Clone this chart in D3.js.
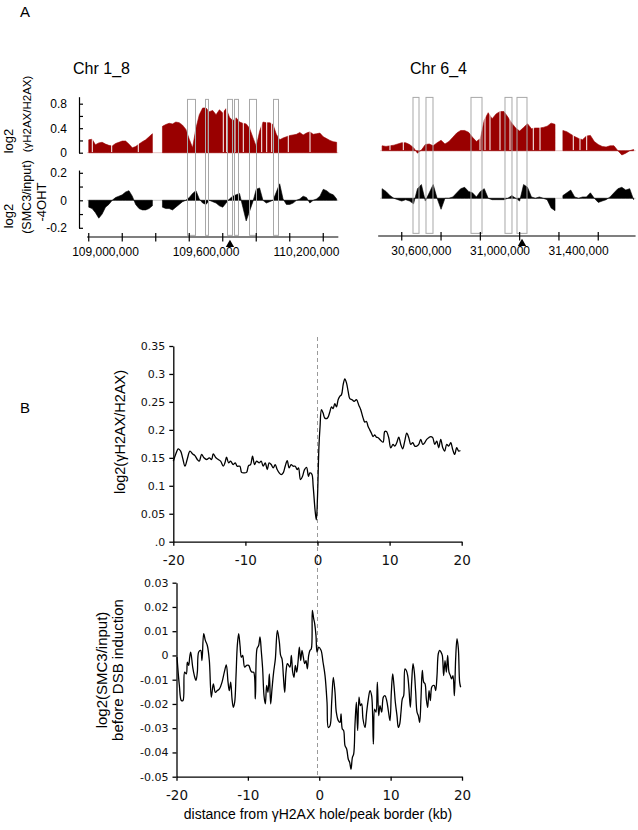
<!DOCTYPE html>
<html>
<head>
<meta charset="utf-8">
<script src="https://cdn.jsdelivr.net/npm/d3@7"></script>
<style>
  body { margin: 0; background: #fff; }
  svg { display: block; }
</style>
</head>
<body>
<div id="chart"></div>
<script>
// ---------- panel A : 20 kb bins ----------
var binStep = 20000;

var chr1Start = 108890000;
var chr1Gamma = [0.21,0.22,0.13,0.16,0.17,0.14,0.12,0.11,0.15,0.17,
                 0.19,0.19,0.14,0.08,0.10,0.14,0.18,0.21,0.26,0.31,
                 null,null,0.43,0.46,0.48,0.47,0.50,0.49,0.45,0.38,
                 0.22,0.08,0.40,0.62,0.73,0.73,0.67,0.69,0.62,0.70,
                 0.65,0.72,0.58,0.52,0.57,0.50,0.48,0.47,0.40,0.25,
                 0.10,0.35,0.50,0.49,0.49,0.46,0.30,0.21,0.24,0.26,
                 0.28,0.29,0.30,0.33,0.29,0.32,0.34,0.30,0.31,0.32,
                 0.26,0.23,0.20,0.18,0.17];
var chr1Smc3 = [-0.05,-0.06,-0.09,-0.13,-0.10,-0.05,-0.03,0.00,0.02,0.03,
                0.04,0.06,0.07,0.03,-0.03,-0.06,-0.07,-0.07,-0.06,-0.04,
                null,null,-0.05,-0.06,-0.06,-0.07,-0.05,-0.03,-0.01,0.00,
                0.02,0.05,0.07,0.01,-0.02,-0.03,0.00,-0.01,-0.02,-0.04,
                -0.05,-0.02,0.01,0.03,0.04,0.05,-0.05,-0.15,-0.08,-0.01,
                0.08,0.09,0.00,-0.02,-0.01,0.00,0.06,0.12,0.01,-0.03,
                -0.03,-0.02,0.00,0.01,0.03,0.02,-0.02,0.00,0.01,0.03,
                0.08,0.07,0.05,0.04,0.01];
// positions of empty bins inside the gammaH2AX track
var chr1Gaps = [108921200,109037000,109195800,109613700,109703300,109723600,109773100,
                109822700,109932500,109962400,109992200,110091300,110220900];

var chr6Start = 30390000;
var chr6Gamma = [0.08,0.07,0.08,0.09,0.11,0.13,0.13,0.10,0.05,-0.04,
                 0.01,0.10,0.11,0.08,0.13,0.17,0.11,0.15,0.22,0.29,
                 0.33,0.33,0.30,0.22,0.15,0.20,0.50,0.62,0.52,0.60,
                 0.64,0.64,0.55,0.45,0.37,0.32,0.38,0.44,0.36,0.37,
                 0.37,0.38,0.40,0.45,0.43,null,0.33,0.31,0.27,0.23,
                 0.20,0.18,0.24,0.25,0.15,0.10,0.07,0.06,0.08,0.08,
                 0.00,-0.07,-0.04,0.00,0.02];
var chr6Smc3 = [0.07,0.05,0.02,0.00,-0.01,-0.02,-0.01,-0.02,-0.04,0.07,
                0.10,-0.02,0.04,0.10,0.00,-0.08,0.00,0.00,0.01,0.04,
                0.07,0.08,0.05,0.04,0.01,0.05,0.07,0.00,-0.01,-0.01,
                -0.01,-0.01,0.00,0.02,0.00,-0.02,0.10,0.08,0.01,0.00,
                0.01,0.00,-0.01,-0.07,-0.09,null,0.02,0.04,0.06,0.01,
                0.00,0.01,0.01,0.04,0.00,-0.03,-0.02,-0.01,0.01,0.04,
                0.07,0.08,0.06,0.07,-0.01];
var chr6Gaps = [30440200,30507900,30898200,30923700,30949100,31000000,31050900,
                31169500,31203600,31373000,31407100,31441200];

// grey boxes (hole / peak borders) and break site
var chr1Boxes = [[109489500,109537300],[109597000,109614900],[109728300,109758200],
                 [109770100,109794000],[109859700,109901500],[110003000,110032800]];
var chr6Boxes = [[30557250,30587800],[30623400,30659000],[30852400,30908400],
                 [31025400,31061000],[31086500,31137400]];
var chr1Break = 109743000, chr6Break = 31112000;

var chr1Labels = [109000000, 109600000, 110200000];
var chr1TickMarks = [108900000,109100000,109300000,109500000,109700000,109900000,110100000,110300000];
var chr6Labels = [30600000, 31000000, 31400000];
var chr6TickMarks = [30500000,30700000,30900000,31100000,31300000,31500000];
var chr1AxisSpan = [108890000, 110390000];
var chr6AxisSpan = [30380000, 31690000];

var gammaTicks = [0, 0.2, 0.4, 0.6, 0.8];
var gammaLabelled = [0, 0.4, 0.8];
var smc3Ticks = [-0.2, -0.1, 0, 0.1, 0.2];
var smc3Labelled = [-0.2, 0, 0.2];

// ---------- panel B : averaged profiles (kb, value) ----------
var gammaProfile = [[-20.00,0.144],[-19.68,0.156],[-19.31,0.166],[-18.98,0.162],[-18.71,0.150],[-18.38,0.135],
  [-18.06,0.148],[-17.69,0.162],[-17.32,0.157],[-17.00,0.154],[-16.67,0.147],[-16.40,0.144],[-16.07,0.156],
  [-15.75,0.150],[-15.38,0.147],[-15.01,0.150],[-14.69,0.147],[-14.46,0.157],[-14.09,0.150],[-13.76,0.147],
  [-13.44,0.144],[-13.07,0.135],[-12.84,0.141],[-12.61,0.151],[-12.33,0.141],[-12.06,0.144],[-11.69,0.138],
  [-11.41,0.141],[-11.13,0.135],[-10.76,0.135],[-10.53,0.124],[-10.21,0.123],[-9.84,0.124],[-9.56,0.136],
  [-9.28,0.138],[-9.01,0.153],[-8.73,0.138],[-8.45,0.144],[-8.08,0.141],[-7.81,0.144],[-7.53,0.135],
  [-7.25,0.141],[-6.97,0.129],[-6.70,0.141],[-6.42,0.138],[-6.14,0.132],[-5.87,0.138],[-5.59,0.129],
  [-5.31,0.123],[-5.03,0.120],[-4.76,0.123],[-4.48,0.135],[-4.20,0.145],[-3.93,0.132],[-3.65,0.138],
  [-3.37,0.135],[-3.09,0.135],[-2.82,0.129],[-2.63,0.132],[-2.36,0.111],[-2.08,0.117],[-1.80,0.129],
  [-1.52,0.133],[-1.25,0.117],[-1.06,0.123],[-0.79,0.121],[-0.60,0.099],[-0.32,0.054],[-0.16,0.039],
  [0.00,0.080],[0.20,0.170],[0.35,0.205],[0.55,0.236],[0.78,0.230],[1.01,0.221],[1.38,0.221],[1.71,0.232],
  [1.94,0.241],[2.17,0.238],[2.40,0.247],[2.63,0.241],[2.86,0.254],[3.09,0.260],[3.33,0.263],[3.56,0.281],
  [3.79,0.291],[4.02,0.284],[4.25,0.269],[4.48,0.256],[4.80,0.254],[5.08,0.251],[5.40,0.254],[5.73,0.244],
  [6.00,0.236],[6.33,0.221],[6.56,0.214],[6.79,0.215],[7.02,0.206],[7.25,0.200],[7.48,0.194],[7.71,0.188],
  [7.94,0.191],[8.17,0.187],[8.41,0.186],[8.78,0.181],[9.10,0.178],[9.33,0.197],[9.56,0.197],[9.88,0.186],
  [10.16,0.168],[10.48,0.174],[10.72,0.171],[10.99,0.177],[11.27,0.187],[11.55,0.174],[11.82,0.166],
  [12.10,0.180],[12.38,0.194],[12.66,0.186],[12.93,0.174],[13.21,0.177],[13.49,0.171],[13.76,0.171],
  [14.04,0.174],[14.32,0.183],[14.60,0.174],[14.87,0.177],[15.15,0.183],[15.43,0.186],[15.70,0.188],
  [15.98,0.186],[16.26,0.174],[16.54,0.180],[16.81,0.168],[17.09,0.183],[17.37,0.168],[17.64,0.162],
  [17.92,0.174],[18.20,0.171],[18.48,0.177],[18.75,0.165],[19.03,0.156],[19.31,0.168],[19.58,0.162],
  [19.82,0.163]];

var smc3Profile = [[-19.93,-0.0007],[-19.60,-0.0124],[-19.32,-0.0186],[-19.09,-0.0186],[-18.86,-0.0069],
  [-18.62,-0.0076],[-18.48,-0.0028],[-18.30,-0.0041],[-18.15,-0.0007],[-18.01,0.0014],[-17.73,-0.0048],
  [-17.50,-0.0083],[-17.27,-0.0103],[-17.08,-0.0069],[-16.89,0.0014],[-16.61,0.0021],[-16.43,-0.0021],
  [-16.19,0.0090],[-15.96,0.0062],[-15.68,0.0041],[-15.40,-0.0021],[-15.12,-0.0172],[-14.84,-0.0117],
  [-14.56,-0.0152],[-14.28,-0.0145],[-13.99,-0.0138],[-13.62,-0.0110],[-13.30,-0.0069],[-13.02,-0.0039],
  [-12.78,-0.0110],[-12.60,-0.0145],[-12.41,-0.0110],[-12.22,-0.0179],[-12.04,-0.0214],[-11.85,-0.0193],
  [-11.66,-0.0083],[-11.48,0.0041],[-11.29,0.0090],[-11.10,0.0041],[-10.92,-0.0007],[-10.73,0.0000],
  [-10.45,-0.0048],[-10.17,-0.0041],[-9.89,-0.0041],[-9.61,-0.0062],[-9.42,-0.0069],[-9.19,-0.0069],
  [-8.95,-0.0179],[-8.72,0.0028],[-8.49,0.0041],[-8.30,0.0076],[-8.11,0.0014],[-7.93,-0.0055],
  [-7.74,-0.0166],[-7.55,-0.0200],[-7.37,-0.0124],[-7.18,-0.0152],[-6.99,-0.0076],[-6.81,-0.0200],
  [-6.62,-0.0138],[-6.39,-0.0069],[-6.15,-0.0014],[-5.87,0.0103],[-5.59,0.0055],[-5.41,0.0000],
  [-5.22,-0.0014],[-5.03,-0.0083],[-4.84,-0.0152],[-4.66,-0.0069],[-4.47,-0.0034],[-4.28,-0.0041],
  [-4.10,-0.0048],[-3.91,0.0000],[-3.72,-0.0069],[-3.54,-0.0090],[-3.35,-0.0041],[-3.16,-0.0069],
  [-2.98,-0.0028],[-2.79,0.0034],[-2.60,-0.0021],[-2.42,0.0021],[-2.23,-0.0007],[-2.04,-0.0034],
  [-1.86,-0.0021],[-1.67,-0.0055],[-1.48,0.0000],[-1.30,0.0021],[-1.11,0.0028],[-0.97,0.0186],
  [-0.78,0.0152],[-0.64,0.0131],[-0.46,0.0083],[-0.31,0.0014],[-0.08,0.0034],[0.25,0.0021],
  [0.53,-0.0028],[0.81,-0.0083],[1.09,-0.0193],[1.27,-0.0297],[1.51,-0.0290],[1.74,-0.0193],
  [1.97,-0.0090],[2.21,-0.0152],[2.39,-0.0234],[2.67,-0.0269],[2.91,-0.0276],[3.05,-0.0241],
  [3.23,-0.0303],[3.42,-0.0310],[3.61,-0.0372],[3.84,-0.0386],[4.07,-0.0428],[4.26,-0.0441],
  [4.45,-0.0469],[4.64,-0.0421],[4.82,-0.0407],[5.01,-0.0283],[5.20,-0.0193],[5.38,-0.0310],
  [5.57,-0.0172],[5.76,-0.0207],[5.94,-0.0200],[6.13,-0.0262],[6.41,-0.0297],[6.64,-0.0234],
  [6.88,-0.0179],[7.11,-0.0145],[7.34,-0.0166],[7.58,-0.0366],[7.76,-0.0221],[7.95,-0.0234],
  [8.14,-0.0110],[8.33,-0.0248],[8.51,-0.0207],[8.75,-0.0234],[8.98,-0.0172],[9.21,-0.0166],
  [9.45,-0.0186],[9.68,-0.0228],[9.91,-0.0269],[10.10,-0.0152],[10.29,-0.0076],[10.47,-0.0124],
  [10.66,-0.0193],[10.89,-0.0248],[11.08,-0.0297],[11.27,-0.0283],[11.45,-0.0234],[11.64,-0.0179],
  [11.83,-0.0166],[12.01,-0.0055],[12.20,-0.0062],[12.39,-0.0083],[12.57,-0.0138],[12.76,-0.0214],
  [12.95,-0.0110],[13.14,-0.0034],[13.32,-0.0069],[13.51,-0.0152],[13.70,-0.0234],[13.88,-0.0248],
  [14.07,-0.0276],[14.26,-0.0172],[14.44,-0.0062],[14.63,-0.0110],[14.82,-0.0117],[15.00,-0.0179],
  [15.19,-0.0214],[15.38,-0.0145],[15.56,-0.0186],[15.75,-0.0131],[15.94,-0.0124],[16.12,-0.0124],
  [16.31,-0.0145],[16.50,-0.0083],[16.68,0.0007],[16.87,0.0021],[17.06,0.0014],[17.24,0.0000],
  [17.43,-0.0083],[17.62,-0.0021],[17.81,-0.0069],[17.99,0.0000],[18.18,-0.0069],[18.37,-0.0083],
  [18.55,-0.0097],[18.74,-0.0083],[18.93,-0.0166],[19.11,-0.0014],[19.30,0.0069],[19.49,0.0028],
  [19.67,-0.0110],[19.81,-0.0131]];

var kbTicks = [-20, -10, 0, 10, 20];
var gammaAvgTicks = [0, 0.05, 0.1, 0.15, 0.2, 0.25, 0.3, 0.35];
var gammaAvgLabels = [".0", "0.05", "0.1", "0.15", "0.2", "0.25", "0.3", "0.35"];
var smc3AvgTicks = [-0.05, -0.04, -0.03, -0.02, -0.01, 0, 0.01, 0.02, 0.03];
var smc3AvgLabels = ["-0.05", "-0.04", "-0.03", "-0.02", "-0.01", "0", "0.01", "0.02", "0.03"];

// ---------- drawing ----------
var W = 638, H = 830;
var fontA = "'Liberation Sans', Arial, sans-serif";
var fontTick = "'DejaVu Sans', Verdana, sans-serif";

var svg = d3.select("#chart").append("svg")
    .attr("width", W).attr("height", H)
    .style("font-family", fontA);

svg.append("rect").attr("width", W).attr("height", H).attr("fill", "#fff");

function fmtBp(v) { return d3.format(",")(v); }

// y scales for panel A (right panel sits 2px higher)
function gammaScale(shift) {
    return d3.scaleLinear().domain([0, 0.914]).range([152.7 + shift, 96.7 + shift]);
}
function smc3Scale(shift) {
    return d3.scaleLinear().domain([-0.2, 0.22]).range([227.8 + shift, 170.05 + shift]);
}

function drawTrack(g, x, y, start, values, fill, baseColor) {
    var n = values.length;
    // faint zero line under the whole track
    g.append("line")
        .attr("x1", x(start)).attr("x2", x(start + n * binStep))
        .attr("y1", y(0)).attr("y2", y(0))
        .attr("stroke", baseColor).attr("stroke-width", 1);
    var pts = values.map(function(v, i) { return {s: start + (i + 0.5) * binStep, v: v}; });
    var area = d3.area()
        .defined(function(d) { return d.v !== null; })
        .x(function(d) { return x(d.s); })
        .y0(y(0))
        .y1(function(d) { return y(d.v); });
    g.append("path").datum(pts).attr("d", area)
        .attr("fill", fill).attr("stroke", fill).attr("stroke-width", 0.6);
}

function drawChrPanel(opts) {
    var g = svg.append("g");
    var x = opts.x, yG = opts.yG, yS = opts.yS;

    drawTrack(g, x, yG, opts.start, opts.gamma, "#990000", "#e6c4c4");
    drawTrack(g, x, yS, opts.start, opts.smc3, "#000", "#c8c8c8");

    // empty bins show as thin white cuts in the red track
    g.selectAll(null).data(opts.gaps).enter().append("line")
        .attr("x1", function(d) { return x(d); }).attr("x2", function(d) { return x(d); })
        .attr("y1", yG(0) - 0.6).attr("y2", yG(0.8))
        .attr("stroke", "#fff").attr("stroke-width", 1);

    // boxes
    g.selectAll(null).data(opts.boxes).enter().append("rect")
        .attr("x", function(d) { return x(d[0]); })
        .attr("width", function(d) { return x(d[1]) - x(d[0]); })
        .attr("y", yG(0.87))
        .attr("height", yS(-0.255) - yG(0.87))
        .attr("fill", "none")
        .attr("stroke", "#a8a8a8")
        .attr("stroke-width", 1);

    // x axis
    var ay = opts.axisY;
    g.append("line")
        .attr("x1", x(opts.span[0])).attr("x2", x(opts.span[1]))
        .attr("y1", ay).attr("y2", ay)
        .attr("stroke", "#000").attr("stroke-width", 1.2);
    g.selectAll(null).data(opts.tickMarks).enter().append("line")
        .attr("x1", function(d) { return x(d); }).attr("x2", function(d) { return x(d); })
        .attr("y1", ay - 4).attr("y2", ay + 4.5)
        .attr("stroke", "#000").attr("stroke-width", 1.2);
    g.selectAll(null).data(opts.labels).enter().append("text")
        .attr("x", function(d) { return x(d); })
        .attr("y", ay + 19)
        .attr("text-anchor", "middle")
        .style("font-size", "12px")
        .text(fmtBp);

    // break site triangle
    g.append("path")
        .attr("d", d3.symbol(d3.symbolTriangle).size(30))
        .attr("transform", "translate(" + x(opts.brk) + "," + (ay + 7.5) + ")")
        .attr("fill", "#000");

    g.append("text")
        .attr("x", opts.titleX).attr("y", 74)
        .style("font-size", "16px")
        .text(opts.title);
}

var x1 = d3.scaleLinear().domain([109000000, 110200000]).range([105.5, 306.5]);
var x6 = d3.scaleLinear().domain([31000000, 31400000]).range([500, 578.6]);

var yG1 = gammaScale(0), yS1 = smc3Scale(0);
var yG6 = gammaScale(-2), yS6 = smc3Scale(-2);

drawChrPanel({x: x1, yG: yG1, yS: yS1, start: chr1Start, gamma: chr1Gamma, smc3: chr1Smc3,
    gaps: chr1Gaps, boxes: chr1Boxes, span: chr1AxisSpan, tickMarks: chr1TickMarks, labels: chr1Labels,
    brk: chr1Break, axisY: 237, title: "Chr 1_8", titleX: 73});
drawChrPanel({x: x6, yG: yG6, yS: yS6, start: chr6Start, gamma: chr6Gamma, smc3: chr6Smc3,
    gaps: chr6Gaps, boxes: chr6Boxes, span: chr6AxisSpan, tickMarks: chr6TickMarks, labels: chr6Labels,
    brk: chr6Break, axisY: 236, title: "Chr 6_4", titleX: 410});

// y axes of left panel (ticks point inward)
function yAxisA(scale, ticks, labelled) {
    var ax = d3.axisLeft(scale).tickValues(ticks)
        .tickSizeInner(-4).tickSizeOuter(0).tickPadding(12)
        .tickFormat(function(d) { return labelled.indexOf(d) >= 0 ? String(d) : ""; });
    var g = svg.append("g").attr("transform", "translate(79,0)").call(ax);
    g.select(".domain").attr("stroke-width", 1.2);
    g.selectAll(".tick line").attr("stroke-width", 1.2);
    g.selectAll("text").style("font-size", "12px").style("font-family", fontA);
}
yAxisA(yG1, gammaTicks, gammaLabelled);
yAxisA(yS1, smc3Ticks, smc3Labelled);

// rotated axis titles
function vText(x, y, str, size) {
    svg.append("text")
        .attr("transform", "translate(" + x + "," + y + ") rotate(-90)")
        .attr("text-anchor", "middle")
        .style("font-size", size + "px")
        .text(str);
}
vText(13, 141, "log2", 13);
vText(31, 114, "(\u03B3H2AX/H2AX)", 11.5);
vText(13, 216, "log2", 13);
vText(31, 197, "(SMC3/input)", 12.5);
vText(46, 202, "-4OHT", 13);

svg.append("text").attr("x", 20).attr("y", 17).style("font-size", "15px").text("A");
svg.append("text").attr("x", 20).attr("y", 413).style("font-size", "15px").text("B");

// ---------- panel B ----------
var xT = d3.scaleLinear().domain([-20, 20]).range([173.3, 461.7]);
var yT = d3.scaleLinear().domain([0, 0.35]).range([541.7, 346]);
var xB = d3.scaleLinear().domain([-20, 20]).range([176.5, 462]);
var yB = d3.scaleLinear().domain([-0.05, 0.03]).range([776.7, 582.7]);

// dashed border line at 0 kb
svg.append("line")
    .attr("x1", xT(0)).attr("x2", xT(0))
    .attr("y1", 337).attr("y2", yB(-0.05))
    .attr("stroke", "#9a9a9a").attr("stroke-width", 1)
    .attr("stroke-dasharray", "4,3");

function axesB(x, y, yTicks, yLabels) {
    var gx = svg.append("g")
        .attr("transform", "translate(0," + y.range()[0] + ")")
        .call(d3.axisBottom(x).tickValues(kbTicks).tickSizeInner(4).tickSizeOuter(0).tickPadding(10)
            .tickFormat(function(d) { return String(d); }));
    var gy = svg.append("g")
        .attr("transform", "translate(" + x.range()[0] + ",0)")
        .call(d3.axisLeft(y).tickValues(yTicks).tickSizeInner(4).tickSizeOuter(0).tickPadding(4)
            .tickFormat(function(d, i) { return yLabels[i]; }));
    [gx, gy].forEach(function(g) {
        g.select(".domain").attr("stroke-width", 1.3);
        g.selectAll(".tick line").attr("stroke-width", 1.3);
        g.selectAll("text").style("font-family", fontTick).attr("fill", "#111");
    });
    gx.selectAll("text").style("font-size", "13.5px");
    gy.selectAll("text").style("font-size", "11px");
}
axesB(xT, yT, gammaAvgTicks, gammaAvgLabels);
axesB(xB, yB, smc3AvgTicks, smc3AvgLabels);

var lineT = d3.line().x(function(d) { return xT(d[0]); }).y(function(d) { return yT(d[1]); })
    .curve(d3.curveCatmullRom.alpha(0.5));
var lineB = d3.line().x(function(d) { return xB(d[0]); }).y(function(d) { return yB(d[1]); })
    .curve(d3.curveCatmullRom.alpha(0.5));

svg.append("path").datum(gammaProfile).attr("d", lineT)
    .attr("fill", "none").attr("stroke", "#000").attr("stroke-width", 1.3);
svg.append("path").datum(smc3Profile).attr("d", lineB)
    .attr("fill", "none").attr("stroke", "#000").attr("stroke-width", 1.3);

vText(125, 432, "log2(\u03B3H2AX/H2AX)", 14.5);
vText(107, 670, "log2(SMC3/input)", 15);
vText(123, 670, "before DSB induction", 15);

svg.append("text")
    .attr("x", 318).attr("y", 819)
    .attr("text-anchor", "middle")
    .style("font-size", "14px")
    .text("distance from \u03B3H2AX hole/peak border (kb)");
</script>
</body>
</html>
